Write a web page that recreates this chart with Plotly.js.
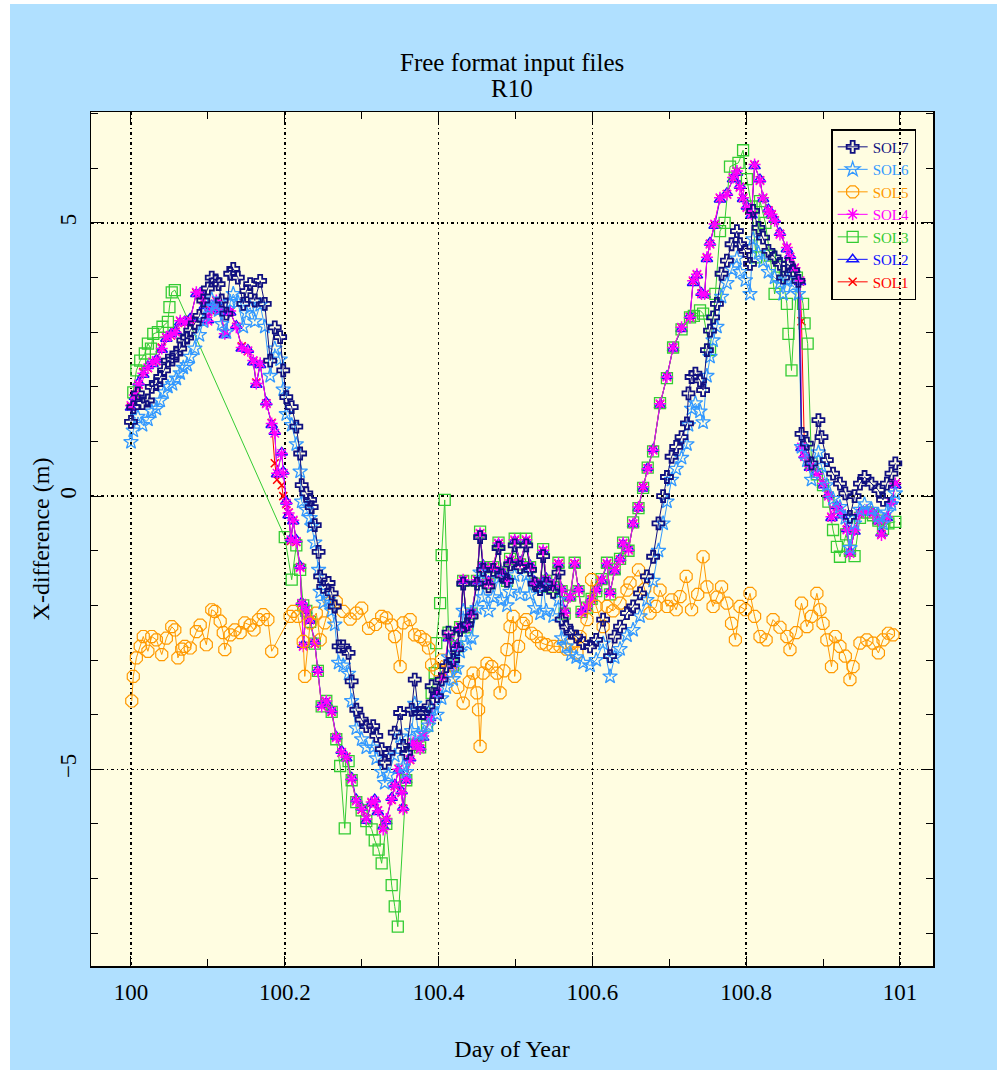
<!DOCTYPE html>
<html>
<head>
<meta charset="utf-8">
<script src="https://cdn.plot.ly/plotly-3.0.1.min.js"></script>
<style>
html,body{margin:0;padding:0;background:#ffffff;}
#chart{position:absolute;left:10px;top:4px;width:987px;height:1066px;}
</style>
</head>
<body>
<div id="chart"></div>
<script>
// ---------------- DATA ----------------
const seriesNames = ["SOL1","SOL2","SOL3","SOL4","SOL5","SOL6","SOL7"];

// shared day-of-year samples for SOL1, SOL2, SOL4
const dayM = [
100.000,100.005,100.010,100.016,100.022,100.028,100.033,100.040,100.046,100.052,
100.058,100.064,100.070,100.077,100.085,100.090,100.096,100.100,100.105,100.111,
100.116,100.122,100.129,100.137,100.144,100.152,100.159,100.163,100.168,100.176,
100.183,100.187,100.190,100.196,100.198,100.202,100.205,100.208,100.211,100.215,
100.220,100.222,100.224,100.228,100.233,100.239,100.243,100.248,100.254,100.261,
100.267,100.274,100.280,100.287,100.293,100.300,100.306,100.313,100.317,100.321,
100.328,100.332,100.339,100.343,100.348,100.352,100.354,100.358,100.363,100.367,
100.372,100.376,100.380,100.389,100.398,100.406,100.413,100.419,100.424,100.428,
100.432,100.437,100.443,100.450,100.454,100.458,100.465,100.471,100.478,100.482,
100.489,100.493,100.499,100.506,100.514,100.519,100.525,100.532,100.536,100.540,
100.549,100.556,100.560,100.564,100.571,100.577,100.582,100.586,100.593,100.599,
100.605,100.612,100.619,100.623,100.629,100.636,100.640,100.647,100.653,100.660,
100.666,100.672,100.679,100.688,100.697,100.705,100.716,100.727,100.731,100.736,
100.742,100.746,100.749,100.753,100.759,100.766,100.775,100.783,100.788,100.792,
100.796,100.801,100.807,100.811,100.818,100.822,100.829,100.833,100.837,100.844,
100.853,100.857,100.863,100.870,100.872,100.876,100.883,100.892,100.900,100.907,
100.911,100.918,100.924,100.931,100.935,100.941,100.948,100.957,100.965,100.972,
100.976,100.983,100.989,100.994];

const sol4 = [
1.66,1.85,2.05,2.25,2.35,2.45,2.48,2.70,2.91,2.95,
3.00,3.21,3.18,3.21,3.73,3.70,3.52,3.20,3.40,3.58,
3.40,2.97,3.39,3.09,2.72,2.66,2.48,2.06,2.43,1.69,
1.33,1.15,0.42,0.78,0.42,-0.13,-0.31,-0.80,-0.44,-0.83,
-1.31,-1.96,-2.75,-2.08,-2.26,-2.69,-3.21,-3.85,-3.75,-3.94,
-4.42,-4.69,-4.78,-5.18,-5.58,-5.73,-5.91,-5.60,-5.58,-5.76,
-6.10,-5.91,-5.55,-5.30,-5.00,-5.43,-5.73,-5.18,-4.82,-4.51,
-4.57,-4.63,-4.39,-4.09,-3.60,-3.30,-2.57,-3.11,-2.75,-2.39,
-1.53,-2.39,-2.14,-1.53,-0.68,-1.29,-1.59,-1.29,-0.86,-1.41,
-1.53,-1.17,-0.80,-1.23,-0.80,-1.29,-1.59,-1.65,-0.99,-1.53,
-1.65,-1.23,-1.72,-2.14,-1.84,-1.23,-1.72,-2.14,-2.02,-1.90,
-1.72,-1.53,-1.23,-1.78,-1.35,-1.17,-0.86,-0.99,-0.50,-0.20,
0.17,0.50,0.84,1.69,2.18,2.72,3.09,3.27,3.94,4.06,
3.70,3.70,4.37,4.61,4.98,5.46,5.52,5.83,5.95,5.65,
5.46,5.28,5.16,6.07,5.77,5.46,5.22,5.16,5.04,4.79,
4.55,4.37,4.18,3.94,0.90,0.72,0.54,0.41,0.23,0.00,
-0.38,-0.20,-0.32,-0.62,-1.05,-0.62,-0.32,-0.26,-0.32,-0.44,
-0.71,-0.38,-0.13,0.23];

const sol2 = [
1.62,1.82,2.08,2.22,2.38,2.42,2.50,2.68,2.88,2.97,
3.02,3.18,3.20,3.25,3.70,3.72,3.48,3.22,3.42,3.55,
3.38,2.95,3.36,3.12,2.70,2.68,2.45,2.04,2.40,1.72,
1.30,1.18,0.40,0.80,0.45,-0.10,-0.35,-0.78,-0.46,-0.80,
-1.28,-1.94,-2.72,-2.10,-2.28,-2.66,-3.18,-3.82,-3.78,-3.92,
-4.40,-4.66,-4.80,-5.15,-5.55,-5.70,-5.94,-5.62,-5.55,-5.78,
-6.05,-5.95,-5.52,-5.28,-5.02,-5.40,-5.70,-5.20,-4.80,-4.54,
-4.55,-4.60,-4.42,-4.06,-3.62,-3.28,-2.60,-3.08,-2.72,-2.42,
-1.55,-2.36,-2.12,-1.56,-0.70,-1.26,-1.56,-1.32,-0.88,-1.38,
-1.50,-1.20,-0.82,-1.20,-0.83,-1.26,-1.56,-1.62,-1.02,-1.50,
-1.62,-1.26,-1.70,-2.10,-1.86,-1.26,-1.70,-2.12,-2.05,-1.88,
-1.70,-1.55,-1.26,-1.75,-1.38,-1.14,-0.88,-0.96,-0.52,-0.22,
0.14,0.52,0.86,1.66,2.20,2.70,3.06,3.30,3.90,4.04,
3.72,3.68,4.34,4.64,4.95,5.43,5.55,5.80,5.92,5.68,
5.44,5.30,5.14,6.04,5.80,5.44,5.25,5.14,5.06,4.82,
4.52,4.40,4.15,3.92,0.88,0.75,0.52,0.44,0.20,0.02,
-0.40,-0.18,-0.35,-0.60,-1.02,-0.65,-0.30,-0.28,-0.30,-0.46,
-0.68,-0.40,-0.10,0.20];

const sol1 = [
1.64,1.86,2.04,2.27,2.34,2.46,2.47,2.72,2.90,2.94,
3.01,3.20,3.17,3.23,3.72,3.68,3.50,3.21,3.38,3.57,
3.41,2.98,3.37,3.10,2.74,2.65,2.47,2.08,2.42,1.70,
1.34,0.60,0.30,0.20,0.00,-0.15,-0.30,-0.82,-0.45,-0.84,
-1.30,-1.97,-2.74,-2.07,-2.27,-2.70,-3.20,-3.84,-3.76,-3.95,
-4.41,-4.70,-4.77,-5.17,-5.57,-5.74,-5.90,-5.61,-5.59,-5.75,
-6.08,-5.92,-5.56,-5.31,-4.99,-5.42,-5.72,-5.19,-4.83,-4.52,
-4.58,-4.62,-4.40,-4.08,-3.61,-3.31,-2.58,-3.10,-2.76,-2.40,
-1.54,-2.38,-2.15,-1.54,-0.69,-1.30,-1.58,-1.30,-0.87,-1.40,
-1.52,-1.18,-0.81,-1.22,-0.81,-1.28,-1.58,-1.64,-1.00,-1.52,
-1.64,-1.24,-1.71,-2.13,-1.85,-1.24,-1.71,-2.13,-2.03,-1.89,
-1.71,-1.54,-1.24,-1.77,-1.36,-1.16,-0.87,-0.98,-0.51,-0.21,
0.16,0.51,0.85,1.68,2.19,2.71,3.08,3.28,3.93,4.05,
3.71,3.69,4.36,4.62,4.97,5.45,5.53,5.82,5.94,5.66,
5.45,5.29,5.15,6.06,5.78,5.45,5.23,5.15,5.05,4.80,
4.54,4.38,4.17,3.93,3.20,0.73,0.53,0.42,0.22,0.01,
-0.39,-0.19,-0.33,-0.61,-1.04,-0.63,-0.31,-0.27,-0.31,-0.45,
-0.70,-0.39,-0.12,0.22];

// SOL3
const day3 = [
100.003,100.007,100.012,100.018,100.022,100.026,100.029,100.035,100.041,100.048,
100.050,100.053,100.057,100.200,100.209,100.215,100.220,100.224,100.228,100.233,
100.239,100.243,100.248,100.254,100.261,100.267,100.272,100.278,100.283,100.287,
100.293,100.300,100.306,100.313,100.317,100.322,100.326,100.332,100.339,100.343,
100.347,100.358,100.367,100.376,100.385,100.391,100.395,100.397,100.402,100.404,
100.408,100.413,100.419,100.424,100.428,100.432,100.437,100.443,100.450,100.454,
100.458,100.465,100.471,100.478,100.482,100.489,100.493,100.499,100.506,100.514,
100.519,100.525,100.532,100.536,100.540,100.549,100.556,100.560,100.564,100.571,
100.577,100.582,100.586,100.593,100.599,100.605,100.612,100.619,100.623,100.629,
100.636,100.640,100.647,100.653,100.660,100.666,100.672,100.679,100.688,100.697,
100.705,100.716,100.727,100.732,100.740,100.744,100.753,100.760,100.766,100.772,
100.779,100.790,100.796,100.801,100.807,100.813,100.818,100.825,100.831,100.837,
100.845,100.853,100.855,100.859,100.866,100.874,100.876,100.880,100.885,100.892,
100.900,100.907,100.913,100.918,100.922,100.930,100.935,100.941,100.948,100.957,
100.965,100.972,100.978,100.985,100.994];
const sol3 = [
1.90,2.30,2.48,2.61,2.79,2.70,2.97,3.00,3.10,3.19,
3.46,3.73,3.77,-0.75,-1.53,-0.90,-1.35,-2.00,-2.10,-2.30,
-2.70,-3.20,-3.85,-3.75,-3.95,-4.45,-4.94,-6.08,-4.85,-5.20,
-5.60,-5.75,-5.95,-6.10,-6.30,-6.47,-6.72,-6.00,-7.12,-7.51,
-7.88,-5.20,-4.55,-4.60,-4.20,-3.60,-3.24,-2.69,-1.96,-1.08,
-0.07,-2.50,-3.10,-2.75,-2.40,-1.55,-2.40,-2.15,-1.55,-0.65,
-1.30,-1.60,-1.30,-0.85,-1.40,-1.55,-1.15,-0.78,-1.25,-0.78,
-1.30,-1.60,-1.66,-0.97,-1.55,-1.66,-1.22,-1.74,-2.15,-1.82,
-1.22,-1.74,-2.12,-2.04,-1.88,-1.74,-1.52,-1.22,-1.80,-1.34,
-1.15,-0.85,-1.00,-0.48,-0.22,0.15,0.52,0.82,1.70,2.16,
2.72,3.05,3.27,3.30,3.40,3.34,2.67,3.70,4.85,5.00,
6.03,6.10,6.33,5.80,5.30,4.37,5.40,5.00,4.40,3.70,
4.20,3.52,2.97,2.30,4.00,3.52,3.16,2.79,0.60,0.40,
0.20,-0.10,-0.62,-0.93,-1.11,-0.70,-1.00,-1.10,-0.40,-0.30,
-0.35,-0.45,-0.60,-0.50,-0.47];

// SOL5
const day5 = [
100.001,100.003,100.007,100.012,100.016,100.022,100.027,100.033,100.040,100.046,
100.053,100.057,100.061,100.066,100.070,100.077,100.085,100.090,100.098,100.105,
100.109,100.116,100.120,100.122,100.129,100.135,100.142,100.148,100.155,100.160,
100.166,100.172,100.178,100.183,100.207,100.211,100.217,100.224,100.226,100.233,
100.241,100.246,100.252,100.259,100.267,100.276,100.285,100.293,100.300,100.309,
100.318,100.326,100.332,100.339,100.343,100.350,100.354,100.363,100.369,100.376,
100.382,100.387,100.391,100.398,100.404,100.415,100.425,100.432,100.440,100.445,
100.450,100.452,100.454,100.458,100.463,100.469,100.476,100.480,100.485,100.489,
100.493,100.497,100.499,100.504,100.510,100.514,100.521,100.527,100.534,100.540,
100.549,100.558,100.566,100.573,100.580,100.584,100.593,100.599,100.605,100.614,
100.619,100.627,100.636,100.645,100.649,100.660,100.668,100.675,100.683,100.688,
100.697,100.703,100.709,100.714,100.722,100.729,100.737,100.744,100.749,100.757,
100.762,100.768,100.775,100.781,100.786,100.792,100.799,100.805,100.811,100.818,
100.826,100.835,100.844,100.853,100.857,100.865,100.872,100.879,100.885,100.892,
100.896,100.900,100.905,100.911,100.916,100.922,100.929,100.935,100.939,100.948,
100.957,100.965,100.972,100.978,100.985,100.991];
const sol5 = [
-3.75,-3.30,-2.96,-2.75,-2.57,-2.84,-2.57,-2.63,-2.90,-2.60,
-2.39,-2.45,-2.96,-2.80,-2.75,-2.78,-2.48,-2.36,-2.72,-2.08,
-2.11,-2.29,-2.50,-2.81,-2.54,-2.45,-2.50,-2.32,-2.36,-2.45,
-2.26,-2.17,-2.26,-2.84,-2.20,-2.11,-2.20,-2.66,-3.30,-2.32,
-2.14,-2.63,-2.32,-1.96,-1.93,-2.11,-2.25,-2.14,-2.05,-2.42,
-2.35,-2.20,-2.23,-2.36,-2.57,-3.12,-2.32,-2.26,-2.54,-2.57,
-2.63,-2.78,-3.09,-3.18,-3.00,-3.20,-3.50,-3.79,-3.40,-3.24,
-3.60,-3.91,-4.58,-3.24,-3.06,-3.12,-3.24,-3.60,-3.20,-2.81,
-2.39,-2.20,-3.30,-2.75,-2.33,-2.26,-2.51,-2.57,-2.69,-2.72,
-2.75,-2.75,-2.80,-2.70,-2.87,-2.57,-2.26,-1.53,-2.02,-2.39,
-2.02,-2.10,-1.96,-1.72,-1.59,-1.35,-1.70,-2.14,-2.02,-1.72,
-2.02,-1.90,-2.08,-1.84,-1.47,-2.08,-1.80,-1.11,-1.66,-2.02,
-1.85,-1.66,-1.96,-2.33,-2.63,-2.02,-2.08,-1.78,-2.20,-2.57,
-2.63,-2.26,-2.40,-2.57,-2.81,-2.50,-1.96,-2.39,-2.20,-1.78,
-2.08,-2.33,-2.63,-3.12,-2.57,-2.75,-2.93,-3.36,-3.12,-2.69,
-2.63,-2.69,-2.87,-2.63,-2.51,-2.54];

// shared samples for SOL6, SOL7
const dayN = [
100.000,100.003,100.009,100.015,100.022,100.027,100.033,100.038,100.043,100.048,
100.054,100.059,100.064,100.068,100.073,100.077,100.083,100.089,100.094,100.100,
100.105,100.110,100.114,100.118,100.124,100.129,100.133,100.139,100.146,100.150,
100.155,100.161,100.168,100.174,100.181,100.187,100.194,100.198,100.202,100.209,
100.215,100.220,100.222,100.228,100.233,100.235,100.239,100.244,100.246,100.250,
100.257,100.261,100.265,100.270,100.276,100.283,100.287,100.293,100.300,100.306,
100.315,100.319,100.326,100.330,100.335,100.343,100.350,100.354,100.358,100.365,
100.369,100.374,100.380,100.387,100.391,100.398,100.404,100.410,100.413,100.419,
100.424,100.428,100.432,100.437,100.443,100.450,100.454,100.458,100.465,100.471,
100.478,100.482,100.489,100.493,100.499,100.506,100.514,100.519,100.525,100.532,
100.536,100.540,100.549,100.556,100.560,100.566,100.572,100.579,100.588,100.597,
100.605,100.614,100.623,100.629,100.636,100.645,100.653,100.662,100.671,100.679,
100.686,100.692,100.697,100.703,100.709,100.716,100.723,100.725,100.729,100.734,
100.740,100.744,100.749,100.753,100.757,100.762,100.768,100.775,100.781,100.788,
100.792,100.799,100.805,100.809,100.816,100.822,100.829,100.837,100.844,100.848,
100.854,100.861,100.868,100.872,100.879,100.885,100.894,100.898,100.905,100.913,
100.922,100.929,100.935,100.941,100.948,100.954,100.963,100.972,100.978,100.983,
100.989,100.994];

const sol7 = [
1.36,1.63,1.88,1.70,1.75,2.00,2.05,2.18,2.30,2.48,
2.50,2.61,2.70,2.85,2.90,3.03,3.16,3.30,3.58,3.80,
4.00,3.95,3.88,3.58,3.34,4.07,4.16,4.00,3.52,3.75,
3.88,3.58,3.94,3.52,2.48,3.09,2.91,2.30,1.81,1.63,
1.27,0.78,0.20,0.05,-0.07,-0.20,-0.53,-1.02,-1.47,-1.66,
-1.59,-1.78,-2.02,-2.75,-2.75,-2.87,-3.39,-3.91,-4.09,-4.21,
-4.21,-4.39,-4.63,-4.88,-4.70,-4.33,-3.97,-4.57,-4.70,-3.91,
-3.36,-3.97,-3.97,-3.85,-3.48,-3.66,-3.36,-3.11,-2.50,-3.00,
-2.80,-2.45,-1.60,-2.35,-2.20,-1.60,-0.75,-1.35,-1.65,-1.35,
-0.95,-1.45,-1.55,-1.25,-0.90,-1.30,-0.90,-1.35,-1.60,-1.70,
-1.10,-1.60,-1.75,-1.40,-2.26,-2.39,-2.50,-2.57,-2.69,-2.75,
-2.63,-2.26,-2.93,-2.57,-2.39,-2.14,-2.02,-1.78,-1.47,-1.11,
-0.50,0.00,0.35,0.72,0.90,1.08,1.33,1.88,2.18,2.24,
2.12,1.94,2.67,3.03,3.27,3.52,4.07,4.31,4.61,4.85,
4.61,4.49,4.25,5.22,4.91,4.73,4.49,4.37,4.25,4.00,
4.25,4.13,3.94,1.14,0.96,0.60,1.39,1.08,0.66,0.41,
0.23,0.05,-0.38,0.00,0.23,0.35,0.23,0.11,-0.07,0.23,
0.41,0.60];

const sol6 = [
0.99,1.20,1.45,1.30,1.40,1.55,1.60,1.75,1.90,2.00,
2.05,2.15,2.25,2.35,2.40,2.55,2.70,2.95,3.20,3.45,
3.60,3.50,3.40,3.15,3.00,3.55,3.70,3.55,3.10,3.35,
3.45,3.20,3.50,3.10,2.20,2.70,2.50,1.95,1.50,1.30,
0.95,0.45,-0.10,-0.25,-0.40,-0.55,-0.85,-1.35,-1.75,-1.95,
-1.90,-2.10,-2.35,-3.05,-3.10,-3.25,-3.75,-4.25,-4.45,-4.60,
-4.60,-4.80,-5.05,-5.25,-5.10,-4.75,-4.40,-4.95,-5.05,-4.30,
-3.80,-4.35,-4.35,-4.20,-3.90,-4.00,-3.70,-3.50,-2.95,-3.35,
-3.15,-2.85,-2.10,-2.70,-2.60,-2.05,-1.40,-1.85,-2.10,-1.85,
-1.50,-1.90,-2.00,-1.75,-1.45,-1.80,-1.45,-1.80,-2.05,-2.15,
-1.65,-2.10,-2.20,-1.90,-2.60,-2.75,-2.90,-2.95,-3.05,-3.10,
-3.00,-2.70,-3.30,-2.95,-2.80,-2.55,-2.45,-2.20,-1.90,-1.55,
-1.00,-0.50,-0.10,0.30,0.50,0.70,0.95,1.30,1.60,1.70,
1.55,1.35,2.20,2.55,2.85,3.10,3.65,3.90,4.15,4.35,
4.10,3.95,3.70,4.70,4.45,4.30,4.10,4.00,3.90,3.70,
3.95,3.85,3.70,0.90,0.65,0.30,0.80,0.55,0.20,-0.05,
-0.20,-0.40,-0.95,-0.50,-0.25,-0.15,-0.25,-0.35,-0.50,-0.30,
-0.15,0.05];

const xTickVals = [100, 100.2, 100.4, 100.6, 100.8, 101];
const xTickText = ["100", "100.2", "100.4", "100.6", "100.8", "101"];
const yTickVals = [-5, 0, 5];
const yTickText = ["\u22125", "0", "5"];

// ---------------- STYLE ----------------
const FONT = "Liberation Serif, Times New Roman, serif";
function makeTrace(name, color, x, y, symbol, size, mlw) {
  return {
    type: "scatter", mode: "lines+markers",
    x: x, y: y,
    name: '<span style="color:' + color + '">' + name + '</span>',
    line: {color: color, width: 1},
    marker: {symbol: symbol, size: size, color: color, line: {color: color, width: mlw}}
  };
}

const traces = [
  makeTrace(seriesNames[0], "#ff0000", dayM, sol1, "x-thin-open", 8, 1.5),
  makeTrace(seriesNames[1], "#1010ff", dayM, sol2, "triangle-up-open", 10, 1.5),
  makeTrace(seriesNames[2], "#33cc33", day3, sol3, "square-open", 11, 1.3),
  makeTrace(seriesNames[3], "#ff00ff", dayM, sol4, "asterisk-open", 10, 1.5),
  makeTrace(seriesNames[4], "#ff9900", day5, sol5, "octagon-open", 13, 1.2),
  makeTrace(seriesNames[5], "#3399ff", dayN, sol6, "star-open", 11, 1.3),
  makeTrace(seriesNames[6], "#101080", dayN, sol7, "cross-open", 10, 1.8)
];

const gridDash = "3px,3px,1px,3px";
const layout = {
  width: 987, height: 1066,
  paper_bgcolor: "#b0e0ff",
  plot_bgcolor: "#fffde1",
  margin: {l: 81, r: 64, t: 108, b: 104},
  font: {family: FONT, color: "#000000", size: 23},
  showlegend: true,
  legend: {
    x: 0.98, y: 0.98, xanchor: "right", yanchor: "top",
    traceorder: "reversed",
    bgcolor: "rgba(0,0,0,0)", bordercolor: "#000000", borderwidth: 1.5,
    font: {family: FONT, size: 15},
    tracegroupgap: 0, itemwidth: 30
  },
  xaxis: {
    range: [99.948, 101.043],
    tickvals: xTickVals, ticktext: xTickText,
    ticks: "inside", ticklen: 10, tickwidth: 1, tickcolor: "#000000",
    minor: {dtick: 0.1, tick0: 100, ticks: "inside", ticklen: 7, tickcolor: "#000000", showgrid: false},
    showline: true, linecolor: "#000000", linewidth: 1.5, mirror: "allticks",
    showgrid: true, gridcolor: "#000000", gridwidth: 1.5, griddash: gridDash,
    zeroline: false,
    ticklabelstandoff: 5,
    tickfont: {family: FONT, size: 23},
    title: {text: "Day of Year", font: {family: FONT, size: 24}, standoff: 36}
  },
  yaxis: {
    range: [-8.6, 7.03],
    tickvals: yTickVals, ticktext: yTickText,
    tickangle: -90,
    ticks: "inside", ticklen: 10, tickwidth: 1, tickcolor: "#000000",
    minor: {dtick: 1, tick0: 0, ticks: "inside", ticklen: 7, tickcolor: "#000000", showgrid: false},
    showline: true, linecolor: "#000000", linewidth: 1.5, mirror: "allticks",
    showgrid: true, gridcolor: "#000000", gridwidth: 1.5, griddash: gridDash,
    zeroline: false,
    ticklabelstandoff: 4,
    tickfont: {family: FONT, size: 23},
    title: {text: "X-difference (m)", font: {family: FONT, size: 24}, standoff: 0}
  },
  annotations: [
    {text: "Free format input files", xref: "paper", yref: "paper", x: 0.5, y: 1.0585,
     xanchor: "center", yanchor: "middle", showarrow: false, font: {family: FONT, size: 25}},
    {text: "R10", xref: "paper", yref: "paper", x: 0.5, y: 1.028,
     xanchor: "center", yanchor: "middle", showarrow: false, font: {family: FONT, size: 25}}
  ]
};

Plotly.newPlot("chart", traces, layout, {displayModeBar: false, staticPlot: true});
</script>
</body>
</html>
